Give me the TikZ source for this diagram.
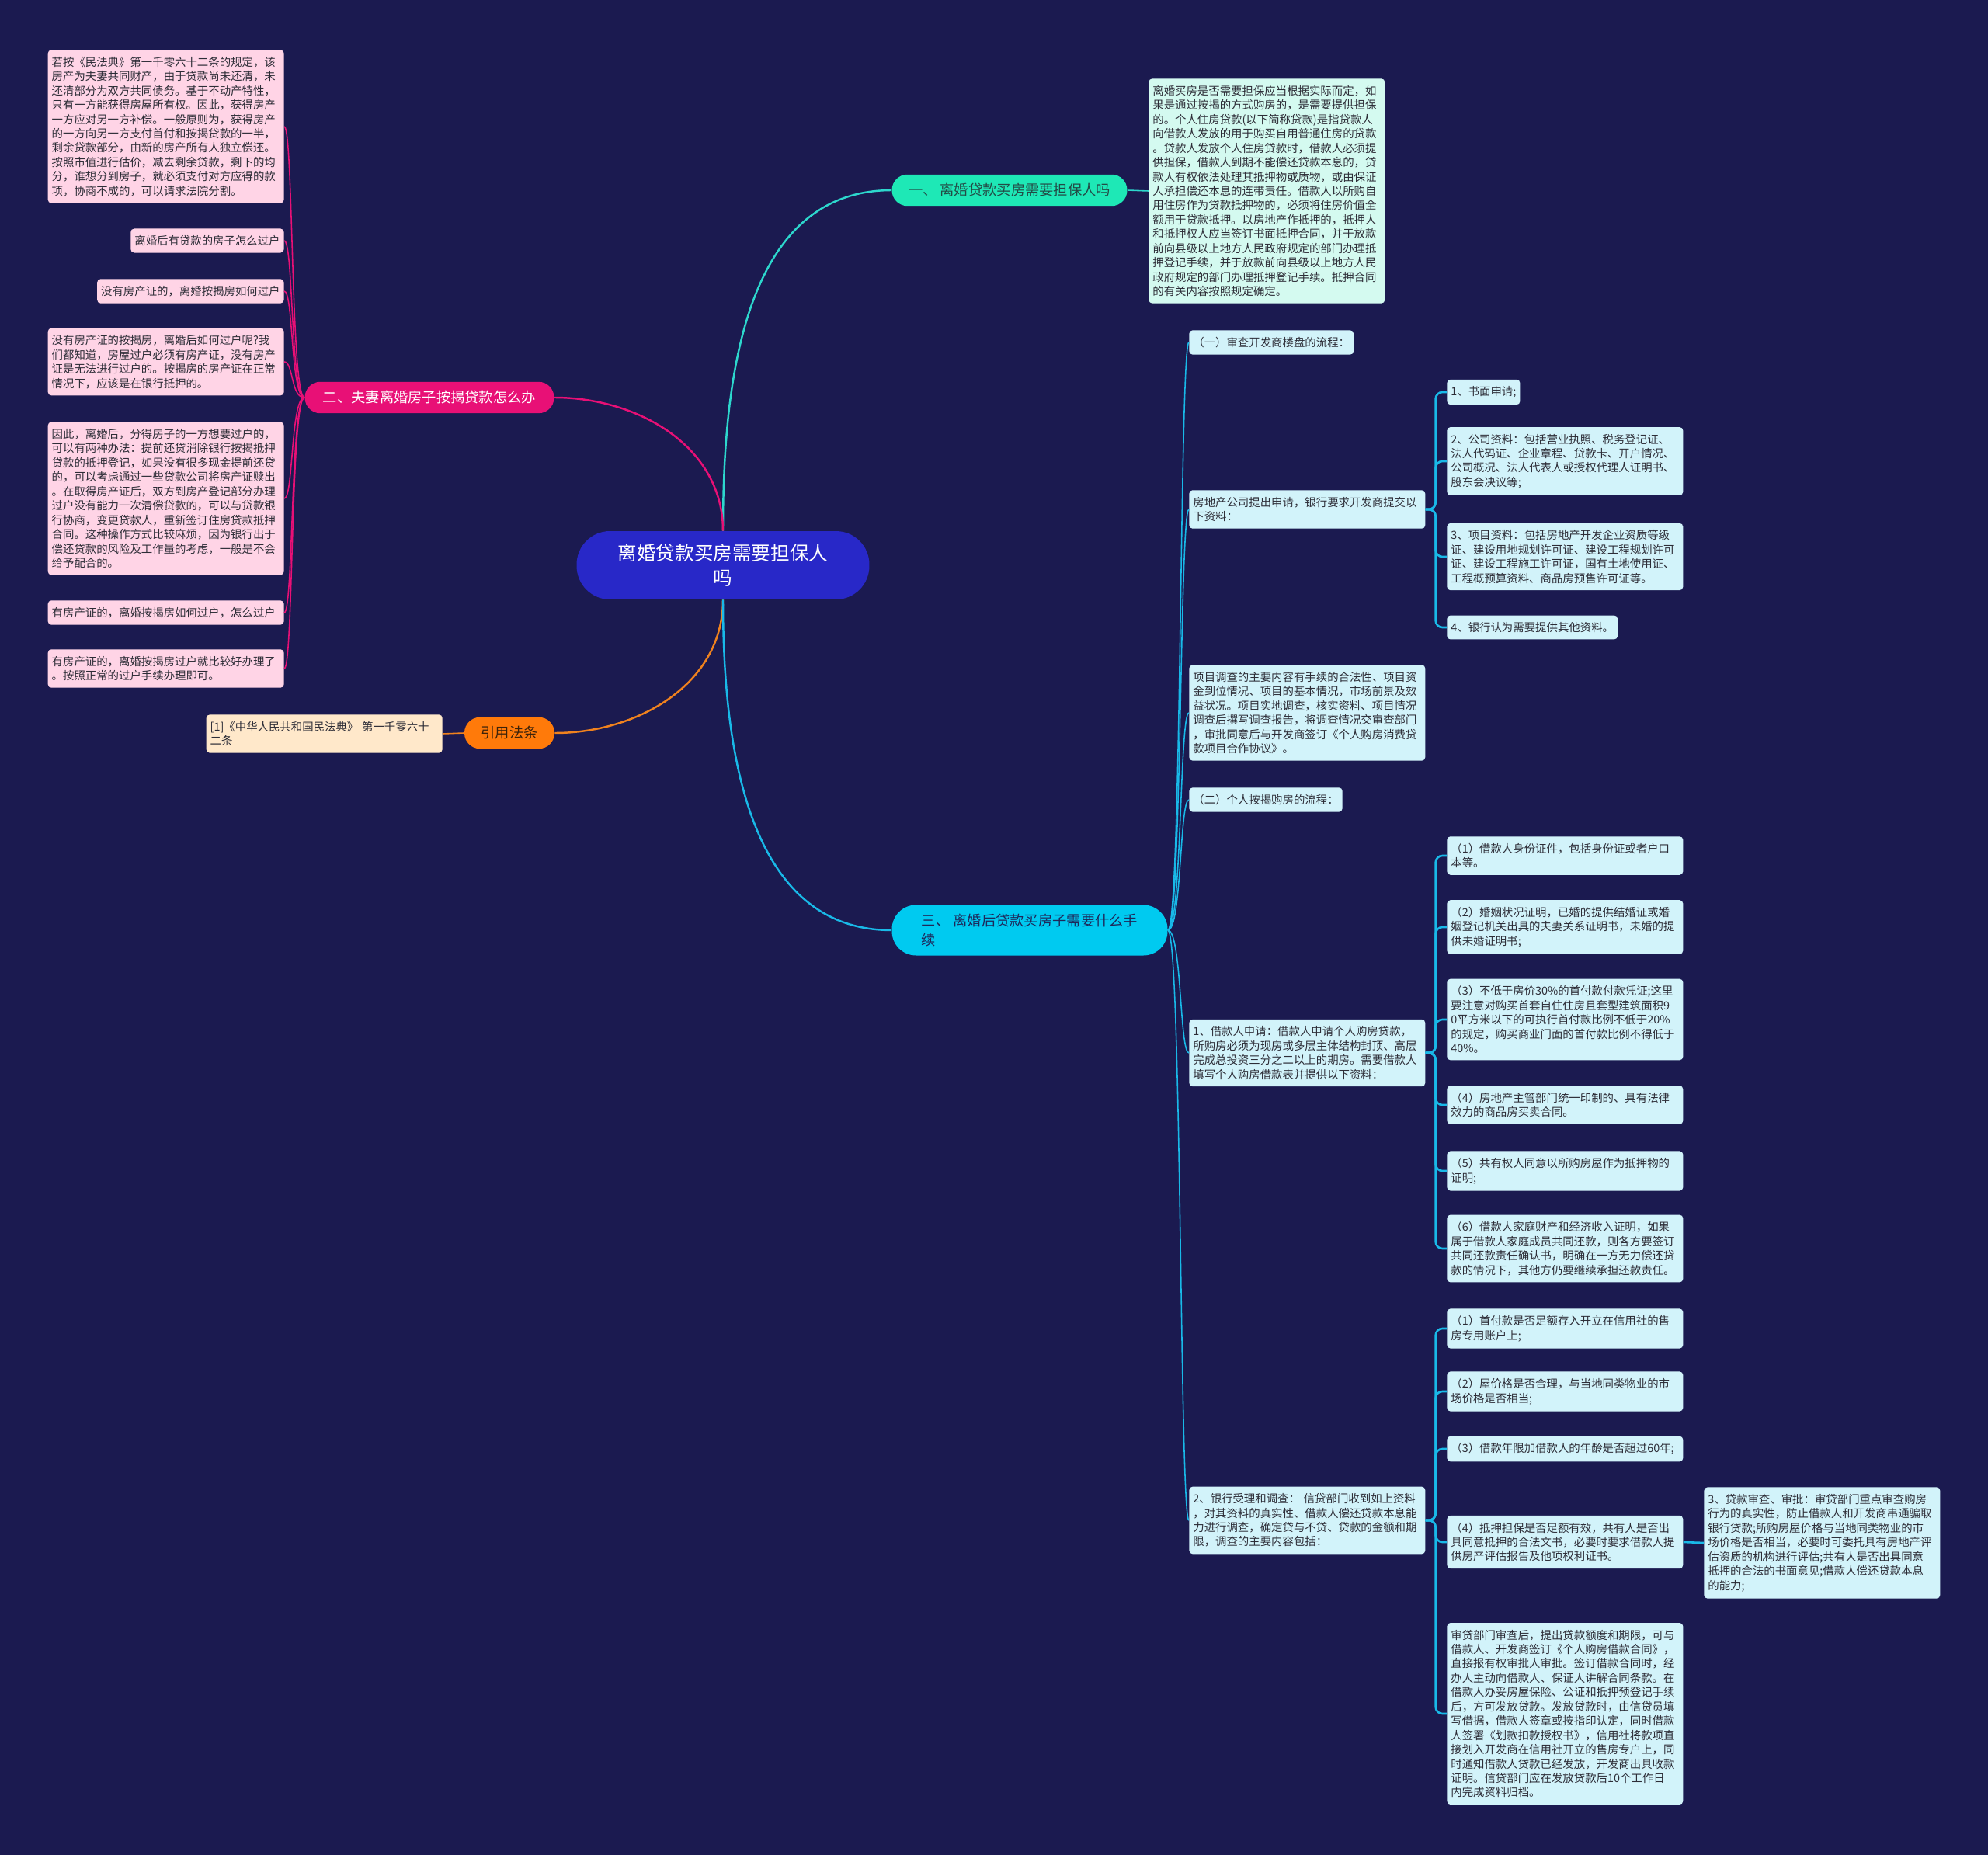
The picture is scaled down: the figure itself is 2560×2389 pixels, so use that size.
\documentclass[tikz,border=0pt]{standalone}
\usepackage{fontspec}
\setmainfont{Noto Sans CJK SC}
\usepackage{xcolor}
\definecolor{bgnavy}{RGB}{27,26,80}
\definecolor{rootblue}{RGB}{40,40,200}
\definecolor{tealbr}{RGB}{30,232,182}
\definecolor{tealline}{RGB}{45,215,205}
\definecolor{mintbox}{RGB}{212,250,240}
\definecolor{magbr}{RGB}{232,16,118}
\definecolor{pinkbox}{RGB}{255,212,230}
\definecolor{orangebr}{RGB}{255,122,10}
\definecolor{orangeline}{RGB}{240,130,30}
\definecolor{peachbox}{RGB}{255,232,202}
\definecolor{cyanbr}{RGB}{0,202,240}
\definecolor{cyanline}{RGB}{25,185,232}
\definecolor{cyanbox}{RGB}{210,243,250}
\definecolor{boxtext}{RGB}{45,45,55}

\begin{document}
\begin{tikzpicture}[x=0.02cm,y=-0.02cm,
  every node/.style={font=\fontsize{8.2}{10.5}\selectfont},
  box/.style={rounded corners=2.5pt, inner xsep=0.1cm, inner ysep=5pt, align=left, text=boxtext},
  wide/.style={box, text width=5.88cm},
  branch/.style={rounded corners=0.4cm, minimum height=0.81cm, inner xsep=0pt,
    font=\fontsize{10.4}{14}\selectfont},
  mainline/.style={line width=1.4pt},
  subline/.style={line width=0.9pt, cyanline},
  elbow/.style={line width=1.5pt, cyanline, rounded corners=5pt}
]
\fill[bgnavy] (0,0) rectangle (2560,2389);
\useasboundingbox (0,0) rectangle (2560,2389);

\node[fill=rootblue, text=white, rounded corners=0.86cm, minimum width=7.54cm, minimum height=1.76cm,
  align=center, font=\fontsize{14}{18.5}\selectfont] (root) at (931,728) {离婚贷款买房需要担保人\\吗};

% branch one
\node[branch, fill=tealbr, text={rgb,255:red,35;green,75;blue,70}, minimum width=6.06cm] (one) at (1300,245)
  {一、 离婚贷款买房需要担保人吗};
\node[wide, fill=mintbox, anchor=west] (onetxt) at (1479,246) {离婚买房是否需要担保应当根据实际而定，如\\
果是通过按揭的方式购房的，是需要提供担保\\
的。个人住房贷款(以下简称贷款)是指贷款人\\
向借款人发放的用于购买自用普通住房的贷款\\
。贷款人发放个人住房贷款时，借款人必须提\\
供担保，借款人到期不能偿还贷款本息的，贷\\
款人有权依法处理其抵押物或质物，或由保证\\
人承担偿还本息的连带责任。借款人以所购自\\
用住房作为贷款抵押物的，必须将住房价值全\\
额用于贷款抵押。以房地产作抵押的，抵押人\\
和抵押权人应当签订书面抵押合同，并于放款\\
前向县级以上地方人民政府规定的部门办理抵\\
押登记手续，并于放款前向县级以上地方人民\\
政府规定的部门办理抵押登记手续。抵押合同\\
的有关内容按照规定确定。};

% branch two
\node[branch, fill=magbr, text=white, minimum width=6.42cm] (two) at (553,512) {二、夫妻离婚房子按揭贷款怎么办};
\node[wide, fill=pinkbox, anchor=east] (c1) at (366,163) {若按《民法典》第一千零六十二条的规定，该\\
房产为夫妻共同财产，由于贷款尚未还清，未\\
还清部分为双方共同债务。基于不动产特性，\\
只有一方能获得房屋所有权。因此，获得房产\\
一方应对另一方补偿。一般原则为，获得房产\\
的一方向另一方支付首付和按揭贷款的一半，\\
剩余贷款部分，由新的房产所有人独立偿还。\\
按照市值进行估价，减去剩余贷款，剩下的均\\
分，谁想分到房子，就必须支付对方应得的款\\
项，协商不成的，可以请求法院分割。};
\node[box, fill=pinkbox, anchor=east] (c2) at (366,310) {离婚后有贷款的房子怎么过户};
\node[box, fill=pinkbox, anchor=east] (c3) at (366,375) {没有房产证的，离婚按揭房如何过户};
\node[wide, fill=pinkbox, anchor=east] (c4) at (366,466) {没有房产证的按揭房，离婚后如何过户呢?我\\
们都知道，房屋过户必须有房产证，没有房产\\
证是无法进行过户的。按揭房的房产证在正常\\
情况下，应该是在银行抵押的。};
\node[wide, fill=pinkbox, anchor=east] (c5) at (366,642) {因此，离婚后，分得房子的一方想要过户的，\\
可以有两种办法：提前还贷消除银行按揭抵押\\
贷款的抵押登记，如果没有很多现金提前还贷\\
的，可以考虑通过一些贷款公司将房产证赎出\\
。在取得房产证后，双方到房产登记部分办理\\
过户没有能力一次清偿贷款的，可以与贷款银\\
行协商，变更贷款人，重新签订住房贷款抵押\\
合同。这种操作方式比较麻烦，因为银行出于\\
偿还贷款的风险及工作量的考虑，一般是不会\\
给予配合的。};
\node[wide, fill=pinkbox, anchor=east] (c6) at (366,789) {有房产证的，离婚按揭房如何过户，怎么过户};
\node[wide, fill=pinkbox, anchor=east] (c7) at (366,861) {有房产证的，离婚按揭房过户就比较好办理了\\
。按照正常的过户手续办理即可。};

% cited law
\node[branch, fill=orangebr, text={rgb,255:red,60;green,35;blue,10}, minimum width=2.32cm] (law) at (656,944) {引用法条};
\node[wide, fill=peachbox, anchor=east] (lawtxt) at (570,945) {[1]《中华人民共和国民法典》~第一千零六十\\二条};

% branch three
\node[branch, fill=cyanbr, text={rgb,255:red,30;green,40;blue,90}, minimum width=7.1cm, minimum height=1.3cm,
  rounded corners=0.62cm, align=left] (three) at (1326,1198) {三、 离婚后贷款买房子需要什么手\\续};
\node[box, fill=cyanbox, anchor=west] (a1) at (1531,441) {（一）审查开发商楼盘的流程：};
\node[wide, fill=cyanbox, anchor=west] (a2) at (1531,656) {房地产公司提出申请，银行要求开发商提交以\\下资料：};
\node[wide, fill=cyanbox, anchor=west] (a3) at (1531,918) {项目调查的主要内容有手续的合法性、项目资\\
金到位情况、项目的基本情况，市场前景及效\\
益状况。项目实地调查，核实资料、项目情况\\
调查后撰写调查报告，将调查情况交审查部门\\
，审批同意后与开发商签订《个人购房消费贷\\
款项目合作协议》。};
\node[box, fill=cyanbox, anchor=west] (a4) at (1531,1030) {（二）个人按揭购房的流程：};
\node[wide, fill=cyanbox, anchor=west] (a5) at (1531,1356) {1、借款人申请：借款人申请个人购房贷款，\\
所购房必须为现房或多层主体结构封顶、高层\\
完成总投资三分之二以上的期房。需要借款人\\
填写个人购房借款表并提供以下资料：};
\node[wide, fill=cyanbox, anchor=west] (a6) at (1531,1958) {2、银行受理和调查：~信贷部门收到如上资料\\
，对其资料的真实性、借款人偿还贷款本息能\\
力进行调查，确定贷与不贷、贷款的金额和期\\
限，调查的主要内容包括：};

\node[box, fill=cyanbox, anchor=west] (b1) at (1863,505) {1、书面申请;};
\node[wide, fill=cyanbox, anchor=west] (b2) at (1863,594) {2、公司资料：包括营业执照、税务登记证、\\
法人代码证、企业章程、贷款卡、开户情况、\\
公司概况、法人代表人或授权代理人证明书、\\
股东会决议等;};
\node[wide, fill=cyanbox, anchor=west] (b3) at (1863,717) {3、项目资料：包括房地产开发企业资质等级\\
证、建设用地规划许可证、建设工程规划许可\\
证、建设工程施工许可证，国有土地使用证、\\
工程概预算资料、商品房预售许可证等。};
\node[box, fill=cyanbox, anchor=west] (b4) at (1863,808) {4、银行认为需要提供其他资料。};

\node[wide, fill=cyanbox, anchor=west] (d1) at (1863,1102) {（1）借款人身份证件，包括身份证或者户口\\本等。};
\node[wide, fill=cyanbox, anchor=west] (d2) at (1863,1194) {（2）婚姻状况证明，已婚的提供结婚证或婚\\
姻登记机关出具的夫妻关系证明书，未婚的提\\
供未婚证明书;};
\node[wide, fill=cyanbox, anchor=west] (d3) at (1863,1313) {（3）不低于房价30\%的首付款付款凭证;这里\\
要注意对购买首套自住住房且套型建筑面积9\\
0平方米以下的可执行首付款比例不低于20\%\\
的规定，购买商业门面的首付款比例不得低于\\
40\%。};
\node[wide, fill=cyanbox, anchor=west] (d4) at (1863,1423) {（4）房地产主管部门统一印制的、具有法律\\效力的商品房买卖合同。};
\node[wide, fill=cyanbox, anchor=west] (d5) at (1863,1508) {（5）共有权人同意以所购房屋作为抵押物的\\证明;};
\node[wide, fill=cyanbox, anchor=west] (d6) at (1863,1608) {（6）借款人家庭财产和经济收入证明，如果\\
属于借款人家庭成员共同还款，则各方要签订\\
共同还款责任确认书，明确在一方无力偿还贷\\
款的情况下，其他方仍要继续承担还款责任。};

\node[wide, fill=cyanbox, anchor=west] (e1) at (1863,1711) {（1）首付款是否足额存入开立在信用社的售\\房专用账户上;};
\node[wide, fill=cyanbox, anchor=west] (e2) at (1863,1792) {（2）屋价格是否合理，与当地同类物业的市\\场价格是否相当;};
\node[wide, fill=cyanbox, anchor=west] (e3) at (1863,1866) {（3）借款年限加借款人的年龄是否超过60年;};
\node[wide, fill=cyanbox, anchor=west] (e4) at (1863,1986) {（4）抵押担保是否足额有效，共有人是否出\\
具同意抵押的合法文书，必要时要求借款人提\\
供房产评估报告及他项权利证书。};
\node[wide, fill=cyanbox, anchor=west] (e5) at (1863,2207) {审贷部门审查后，提出贷款额度和期限，可与\\
借款人、开发商签订《个人购房借款合同》，\\
直接报有权审批人审批。签订借款合同时，经\\
办人主动向借款人、保证人讲解合同条款。在\\
借款人办妥房屋保险、公证和抵押预登记手续\\
后，方可发放贷款。发放贷款时，由信贷员填\\
写借据，借款人签章或按指印认定，同时借款\\
人签署《划款扣款授权书》，信用社将款项直\\
接划入开发商在信用社开立的售房专户上，同\\
时通知借款人贷款已经发放，开发商出具收款\\
证明。信贷部门应在发放贷款后10个工作日\\
内完成资料归档。};
\node[wide, fill=cyanbox, anchor=west] (f1) at (2194,1987) {3、贷款审查、审批：审贷部门重点审查购房\\
行为的真实性，防止借款人和开发商串通骗取\\
银行贷款;所购房屋价格与当地同类物业的市\\
场价格是否相当，必要时可委托具有房地产评\\
估资质的机构进行评估;共有人是否出具同意\\
抵押的合法的书面意见;借款人偿还贷款本息\\
的能力;};

% connectors
\draw[mainline, tealline] (root.north) to[out=90,in=180] (one.west);
\draw[mainline, magbr] (root.north) to[out=90,in=0] (two.east);
\draw[mainline, orangeline] (root.south) to[out=-90,in=0] (law.east);
\draw[mainline, cyanline] (root.south) to[out=-90,in=180] (three.west);

\draw[line width=0.9pt, tealline] (one.east) -- (onetxt.west);
\draw[line width=0.9pt, orangeline] (law.west) -- (lawtxt.east);

\foreach \c in {c1,c2,c3,c4,c5,c6,c7}
  \draw[line width=0.9pt, magbr] (two.west) .. controls +(-18,0) and +(12,0) .. (\c.east);

\foreach \a in {a1,a2,a3,a4,a5,a6}
  \draw[subline] (three.east) .. controls +(18,0) and +(-12,0) .. (\a.west);

\foreach \b in {b1,b2,b3,b4}
  \draw[elbow] (a2.east) -- ++(13,0) |- (\b.west);
\foreach \d in {d1,d2,d3,d4,d5,d6}
  \draw[elbow] (a5.east) -- ++(13,0) |- (\d.west);
\foreach \e in {e1,e2,e3,e4,e5}
  \draw[elbow] (a6.east) -- ++(13,0) |- (\e.west);
\draw[elbow] (e4.east) -- (f1.west);

\end{tikzpicture}
\end{document}
